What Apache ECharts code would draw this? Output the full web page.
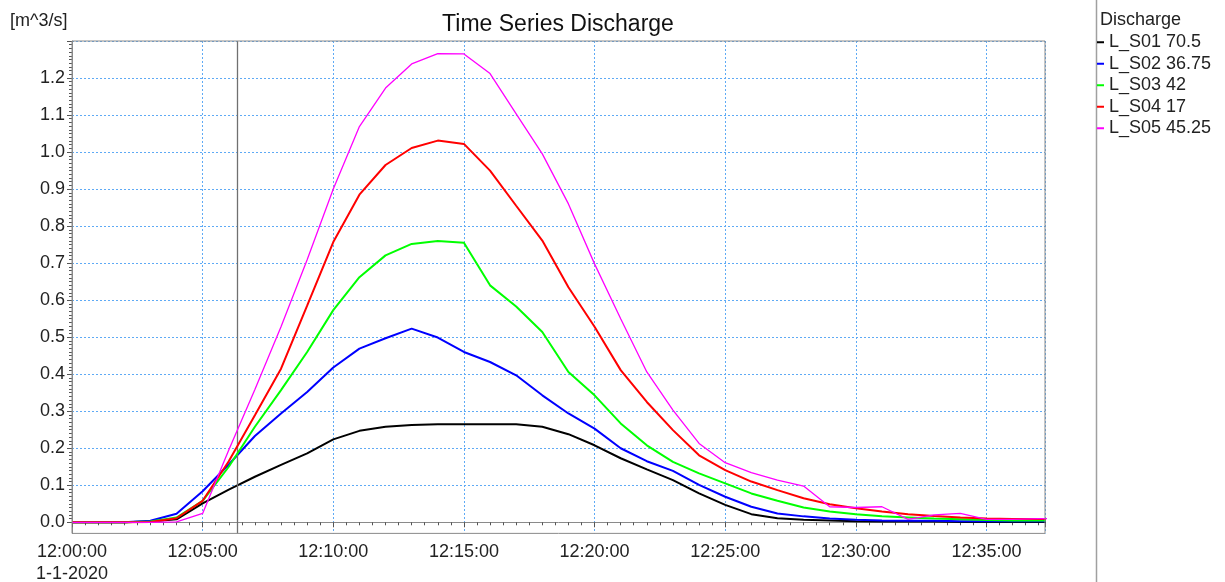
<!DOCTYPE html>
<html>
<head>
<meta charset="utf-8">
<script src="https://cdn.jsdelivr.net/npm/echarts@6/dist/echarts.min.js"></script>
<style>
html,body{margin:0;padding:0;background:#fff;}
#chart{width:1225px;height:582px;}
</style>
</head>
<body>
<div id="chart"></div>
<script>
// minutes after 12:00:00 on 1-1-2020
const minutes = [0,1,2,3,4,5,6,7,8,9,10,11,12,13,14,15,16,17,18,19,20,21,22,23,24,25,26,27,28,29,30,31,32,33,34,35,36,37,38];
const S01 = [0,0,0,0.002,0.008,0.051,0.088,0.123,0.155,0.186,0.224,0.247,0.258,0.263,0.265,0.265,0.265,0.265,0.258,0.238,0.208,0.173,0.143,0.114,0.078,0.047,0.022,0.011,0.007,0.005,0.003,0.002,0.002,0.002,0.001,0.001,0.001,0.001,0.001];
const S02 = [0,0,0,0.004,0.023,0.084,0.156,0.233,0.294,0.352,0.418,0.469,0.497,0.523,0.499,0.460,0.433,0.397,0.343,0.294,0.253,0.200,0.165,0.139,0.101,0.069,0.042,0.024,0.016,0.010,0.007,0.005,0.004,0.004,0.003,0.003,0.003,0.003,0.003];
const S03 = [0,0,0,0.002,0.013,0.058,0.150,0.258,0.357,0.460,0.573,0.662,0.721,0.752,0.760,0.755,0.640,0.583,0.514,0.406,0.343,0.267,0.208,0.163,0.132,0.105,0.078,0.058,0.040,0.029,0.022,0.016,0.013,0.010,0.008,0.006,0.005,0.005,0.005];
const S04 = [0,0,0,0.001,0.011,0.058,0.165,0.289,0.415,0.585,0.757,0.885,0.965,1.011,1.031,1.022,0.950,0.855,0.761,0.635,0.528,0.411,0.325,0.249,0.181,0.141,0.110,0.087,0.065,0.049,0.038,0.029,0.022,0.017,0.013,0.010,0.009,0.009,0.009];
const S05 = [0,0,0,0,0.001,0.024,0.195,0.359,0.528,0.709,0.900,1.069,1.173,1.238,1.266,1.265,1.212,1.103,0.995,0.860,0.698,0.550,0.406,0.303,0.213,0.161,0.134,0.114,0.098,0.042,0.040,0.042,0.008,0.020,0.024,0.008,0.008,0.010,0.010];
const seriesNames = ['L_S01 70.5','L_S02 36.75','L_S03 42','L_S04 17','L_S05 45.25'];
const seriesColors = ['#000000','#0000ff','#00ff00','#ff0000','#ff00ff'];
const seriesValues = [S01,S02,S03,S04,S05];
const cursorMinute = 6.33;
const xMin = 0, xMax = 37.24, xStep = 5;
const yMin = 0, yMax = 1.3, yStep = 0.1, yLow = -0.03, yFine = 0.01;
const titleText = 'Time Series Discharge';
const unitText = '[m^3/s]';
const legendTitle = 'Discharge';
const dateText = '1-1-2020';

const FONT = '"Liberation Sans", Arial, sans-serif';
const gridLine = {show:true, lineStyle:{color:'#5eaaf5', type:[2,2], width:1}};

function timeLabel(v){
  const m = Math.round(v);
  const h = 12 + Math.floor(m/60);
  const mm = String(m%60).padStart(2,'0');
  const s = h + ':' + mm + ':00';
  return m === 0 ? s + '\n' + dateText : s;
}

const series = seriesValues.map((vals,i)=>({
  name: seriesNames[i],
  type:'line',
  xAxisIndex:0, yAxisIndex:0,
  data: minutes.map((m,k)=>[m, vals[k]]),
  showSymbol:false, symbol:'none',
  clip:true,
  lineStyle:{color:seriesColors[i], width: i===4 ? 1.3 : 2},
  itemStyle:{color:seriesColors[i]},
  z: 3 + i,
  markLine: i===0 ? {
    silent:true, symbol:['none','none'], label:{show:false},
    lineStyle:{color:'#707070', type:'solid', width:1.3},
    data:[{xAxis:cursorMinute}]
  } : undefined
}));

const chart = echarts.init(document.getElementById('chart'), null, {renderer:'canvas'});
chart.setOption({
  animation:false,
  backgroundColor:'#fff',
  textStyle:{fontFamily:FONT},
  grid:[
    {left:72, right:180, top:41, bottom:48.6, show:true, z:12, borderColor:'#8a8a8a', borderWidth:1, backgroundColor:'transparent', containLabel:false, outerBoundsMode:'none'},
    {left:72, right:180, top:41, bottom:59.7, show:false, containLabel:false, outerBoundsMode:'none'}
  ],
  xAxis:[
    {type:'value', gridIndex:0, min:xMin, max:xMax, interval:xStep,
     axisLine:{show:true, lineStyle:{color:'#8a8a8a'}},
     axisTick:{show:true, length:5, lineStyle:{color:'#555'}},
     minorTick:{show:true, splitNumber:10, length:3, lineStyle:{color:'#555'}},
     splitLine:gridLine,
     axisLabel:{show:true, formatter:timeLabel, fontSize:18, color:'#222', fontFamily:FONT, margin:8, lineHeight:22, showMaxLabel:false}
    },
    {type:'value', gridIndex:1, min:xMin, max:xMax, interval:xStep, show:false}
  ],
  yAxis:[
    {type:'value', gridIndex:0, min:yLow, max:yMax, interval:yFine,
     axisLine:{show:true, lineStyle:{color:'#8a8a8a'}}, axisTick:{show:false}, axisLabel:{show:false}, splitLine:{show:false}},
    {type:'value', gridIndex:1, min:yMin, max:yMax, interval:yStep,
     axisLine:{show:false},
     axisTick:{show:true, length:5, lineStyle:{color:'#555'}},
     minorTick:{show:true, splitNumber:10, length:3, lineStyle:{color:'#555'}},
     splitLine:gridLine,
     axisLabel:{show:true, formatter:v=>v.toFixed(1), fontSize:18, color:'#222', fontFamily:FONT, margin:7, showMaxLabel:false}
    }
  ],
  legend:{
    orient:'vertical', left:1097, top:31.5, padding:0, itemGap:0,
    itemWidth:7, itemHeight:2, icon:'rect',
    textStyle:{fontSize:18, lineHeight:21.5, color:'#222', fontFamily:FONT},
    data: seriesNames.map((n,i)=>({name:n, itemStyle:{color:seriesColors[i]}})),
    selectedMode:false
  },
  graphic:[
    {type:'text', x:558, y:25, style:{text:titleText, font:'23px ' + FONT, textAlign:'center', textVerticalAlign:'middle', fill:'#111'}},
    {type:'text', x:10, y:21, style:{text:unitText, font:'18px ' + FONT, textAlign:'left', textVerticalAlign:'middle', fill:'#222'}},
    {type:'text', x:1100, y:20, style:{text:legendTitle, font:'18px ' + FONT, textAlign:'left', textVerticalAlign:'middle', fill:'#222'}},
    {type:'line', shape:{x1:1096.5, y1:0, x2:1096.5, y2:582}, style:{stroke:'#a0a0a0', lineWidth:1.5}}
  ],
  series: series
});
</script>
</body>
</html>
